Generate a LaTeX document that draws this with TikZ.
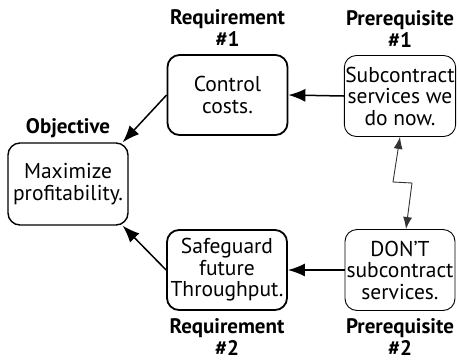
\documentclass[tikz,border=0pt]{standalone}
\usepackage{fontspec}
\setmainfont{PT Sans}
\usetikzlibrary{positioning,arrows.meta}
\begin{document}
\begin{tikzpicture}[x=1pt,y=-1pt,
  font=\fontsize{21.5}{21.5}\selectfont,
  box/.style={draw, rounded corners=12pt, align=center, inner sep=1pt},
  reqbox/.style={box, line width=1.8pt, minimum width=120pt, minimum height=80pt},
  prebox/.style={box, line width=0.9pt, minimum width=110pt, minimum height=81pt},
  objbox/.style={box, line width=1.4pt, minimum width=120pt, minimum height=82pt},
  tag/.style={font=\fontsize{21}{22}\selectfont\bfseries, align=center, inner sep=0pt},
  link/.style={-{Latex[length=17pt,width=13pt]}, line width=1.5pt},
  conflict/.style={{Latex[length=12pt,width=9pt]}-{Latex[length=12pt,width=9pt]}, line width=0.9pt, black!80}]
\useasboundingbox (0,0) rectangle (459,360);

\node[objbox] (obj) at (68,184) {Maximize\\profitability.};
\node[reqbox] (req1) at (227.5,95) {Control\\costs.};
\node[prebox] (pre1) at (400,96) {Subcontract\\services we\\do now.};
\node[reqbox] (req2) at (227,270) {Safeguard\\future\\Throughput.};
\node[prebox] (pre2) at (400,270) {DON'T\\subcontract\\services.};

\node[tag, above=4pt of obj] (objtag) {Objective};
\node[tag, above=7pt of req1] (req1tag) {Requirement\\\#1};
\node[tag, above=7pt of pre1] (pre1tag) {Prerequisite\\\#1};
\node[tag, below=7pt of req2] (req2tag) {Requirement\\\#2};
\node[tag, below=7pt of pre2] (pre2tag) {Prerequisite\\\#2};

\draw[link] (req1.west) -- ([xshift=-6pt]obj.north east);
\draw[link] (req2.west) -- ([xshift=-6pt]obj.south east);
\draw[link] (pre1.west) -- (req1.east);
\draw[link] (pre2.west) -- (req2.east);

% conflict between the two prerequisites
\coordinate (zz1) at (393,182);
\coordinate (zz2) at (412,183);
\draw[conflict] (pre1.south) -- (zz1) -- (zz2) -- ([xshift=6pt]pre2.north);
\end{tikzpicture}
\end{document}
